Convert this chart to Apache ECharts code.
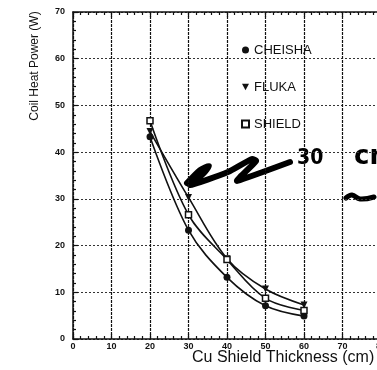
<!DOCTYPE html>
<html>
<head>
<meta charset="utf-8">
<script src="https://cdn.jsdelivr.net/npm/echarts@6/dist/echarts.min.js"></script>
<style>
  html, body { margin: 0; padding: 0; background: #fff; }
  #chart { width: 377px; height: 370px; }
</style>
</head>
<body>
<div id="chart"></div>
<script>
// Cu shield thickness (cm) and coil heat power (W) from three transport codes
const thickness = [20, 30, 40, 50, 60];
const cheisha = [43.3, 23.3, 13.2, 7.1, 4.9];
const fluka = [44.4, 30.3, 17.2, 10.7, 7.3];
const shield = [46.7, 26.6, 17.0, 8.7, 6.1];
const xTicks = [0, 10, 20, 30, 40, 50, 60, 70, 80];
const yTicks = [0, 10, 20, 30, 40, 50, 60, 70];

const pairs = (ys) => thickness.map((x, i) => [x, ys[i]]);
const INK = '#111';
const TRI_DOWN = 'path://M0,0 L10,0 L5,9 Z';

const chart = echarts.init(document.getElementById('chart'), null, { renderer: 'canvas' });

const tickFont = { fontSize: 9, fontWeight: 'bold', color: INK, fontFamily: 'Liberation Sans' };

const baseX = {
  type: 'value',
  min: xTicks[0],
  max: xTicks[xTicks.length - 1],
  interval: 10,
  axisLine: { show: true, lineStyle: { color: INK, width: 1.5 } },
  axisTick: { show: true, inside: true, length: 5, lineStyle: { color: INK, width: 1.2 } },
  minorTick: { show: true, splitNumber: 5, length: 3, lineStyle: { color: INK, width: 1.2 } }
};

chart.setOption({
  animation: false,
  backgroundColor: '#fff',
  grid: { left: 73, right: -4, top: 12, bottom: 31, outerBoundsMode: 'none', containLabel: false },
  xAxis: [
    Object.assign({}, baseX, {
      position: 'bottom',
      axisLabel: Object.assign({ margin: 3, formatter: (v) => xTicks.includes(v) ? String(v) : '' }, tickFont),
      splitLine: { show: true, lineStyle: { color: INK, width: 1.2, type: [3, 1] } }
    }),
    Object.assign({}, baseX, {
      position: 'top',
      axisLabel: { show: false },
      splitLine: { show: false }
    })
  ],
  yAxis: {
    type: 'value',
    min: yTicks[0],
    max: yTicks[yTicks.length - 1],
    interval: 10,
    axisLine: { show: true, lineStyle: { color: INK, width: 1.5 } },
    axisTick: { show: true, inside: true, length: 5, lineStyle: { color: INK, width: 1.2 } },
    minorTick: { show: true, splitNumber: 5, length: 3, lineStyle: { color: INK, width: 1.2 } },
    axisLabel: Object.assign({ margin: 8, formatter: (v) => yTicks.includes(v) ? String(v) : '' }, tickFont),
    splitLine: { show: true, lineStyle: { color: '#333', width: 1, type: [2, 2] } }
  },
  legend: {
    orient: 'vertical',
    left: 241,
    top: 43,
    padding: 0,
    itemGap: 23,
    itemWidth: 7,
    itemHeight: 7,
    textStyle: { fontSize: 13, lineHeight: 14, color: INK, fontFamily: 'Liberation Sans' },
    data: [
      { name: 'CHEISHA', icon: 'circle' },
      { name: 'FLUKA', icon: TRI_DOWN },
      { name: 'SHIELD', icon: 'rect' }
    ]
  },
  series: [
    {
      name: 'CHEISHA', type: 'line', smooth: 0.35, data: pairs(cheisha),
      symbol: 'circle', symbolSize: 7,
      itemStyle: { color: INK },
      lineStyle: { color: INK, width: 1.6 }
    },
    {
      name: 'FLUKA', type: 'line', smooth: 0.35, data: pairs(fluka),
      symbol: TRI_DOWN, symbolSize: 7,
      itemStyle: { color: INK },
      lineStyle: { color: INK, width: 1.6 }
    },
    {
      name: 'SHIELD', type: 'line', smooth: 0.35, data: pairs(shield),
      symbol: 'rect', symbolSize: 6,
      itemStyle: { color: '#fff', borderColor: INK, borderWidth: 1.5 },
      lineStyle: { color: INK, width: 1.6 }
    }
  ],
  graphic: [
    // axis titles
    {
      type: 'text', left: 192, top: 350,
      style: { text: 'Cu Shield Thickness (cm)', fontSize: 16, fill: INK, fontFamily: 'Liberation Sans' }
    },
    {
      type: 'text', x: 35, y: 66, rotation: Math.PI / 2,
      style: { text: 'Coil Heat Power (W)', fontSize: 12, fill: INK, fontFamily: 'Liberation Sans',
               align: 'center', verticalAlign: 'middle' }
    },
    // hand-written note "~30 cm" with its pointer stroke
    {
      type: 'polyline', silent: true,
      shape: {
        points: [[187, 183], [200, 170], [209, 166], [203, 174], [190, 185], [228, 172],
                 [252, 159], [256, 161], [240, 177], [237, 181], [290, 162]],
        smooth: 0.2
      },
      style: { stroke: '#000', lineWidth: 6, fill: null, lineCap: 'round', lineJoin: 'round' }
    },
    {
      type: 'text', left: 297, top: 148,
      style: { text: '30', fontSize: 21, fontWeight: 'bold', fill: '#000', fontFamily: 'DejaVu Sans Condensed' }
    },
    {
      type: 'text', left: 354, top: 144,
      style: { text: 'cm', fontSize: 26, fontWeight: 'bold', fill: '#000', fontFamily: 'DejaVu Sans' }
    },
    {
      type: 'polyline', silent: true,
      shape: { points: [[346, 198], [352, 195], [360, 199], [374, 197]], smooth: 0.4 },
      style: { stroke: '#000', lineWidth: 5, fill: null, lineCap: 'round' }
    }
  ]
});
</script>
</body>
</html>
